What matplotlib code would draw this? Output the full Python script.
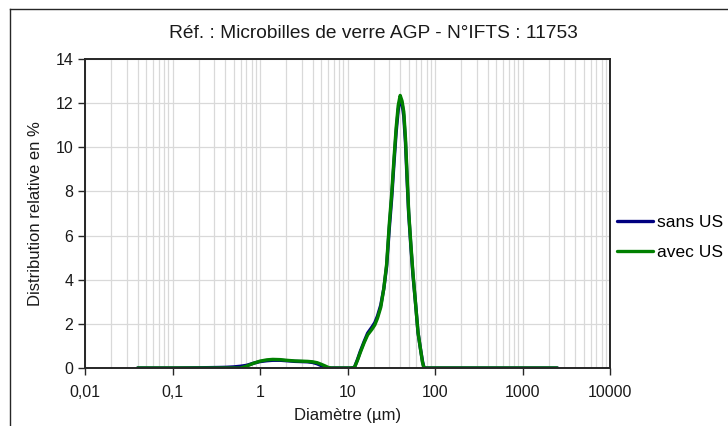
import numpy as np
import matplotlib.pyplot as plt
from matplotlib.lines import Line2D
from matplotlib.ticker import FixedLocator, LogLocator, NullFormatter

plt.rcParams['font.family'] = ['Liberation Sans', 'DejaVu Sans']

# Granulométrie : diamètres (µm) et distributions relatives (%)
diametres = [0.04, 0.1, 0.2, 0.3, 0.4, 0.5, 0.6, 0.7, 0.85, 1.0, 1.2, 1.4,
             1.7, 2.0, 2.5, 3.0, 3.5, 4.0, 4.5, 5.0, 5.5, 6.0, 6.5, 7.0,
             8.0, 9.0, 10.0, 11.0, 12.0, 13.0, 14.0, 15.5, 17.0, 19.0,
             20.5, 22.0, 24.0, 26.0, 28.0, 30.0, 32.0, 34.0, 36.0, 38.0,
             40.0, 42.0, 44.0, 46.0, 48.0, 50.0, 53.0, 56.0, 60.0, 64.0,
             68.0, 72.0, 75.0, 80.0, 100.0, 200.0, 500.0, 1000.0, 2500.0]

sans_us = [0, 0, 0.01, 0.02, 0.03, 0.05, 0.08, 0.12, 0.22, 0.29, 0.33, 0.35,
           0.35, 0.33, 0.30, 0.29, 0.28, 0.25, 0.19, 0.11, 0.04, 0, 0, 0,
           0, 0, 0, 0, 0.03, 0.38, 0.75, 1.2, 1.58, 1.85,
           2.05, 2.35, 2.85, 3.6, 4.6, 6.3, 7.7, 9.3, 10.7, 11.7,
           12.2, 12.0, 11.4, 10.2, 8.5, 7.0, 5.5, 4.2, 2.9, 1.6,
           0.9, 0.3, 0, 0, 0, 0, 0, 0, 0]

avec_us = [0, 0, 0, 0, 0, 0, 0, 0.08, 0.22, 0.31, 0.37, 0.39,
           0.38, 0.35, 0.32, 0.31, 0.30, 0.28, 0.24, 0.17, 0.10, 0.03, 0, 0,
           0, 0, 0, 0, 0.02, 0.35, 0.7, 1.15, 1.5, 1.75,
           1.95, 2.25, 2.75, 3.6, 4.7, 6.5, 7.9, 9.5, 10.9, 11.9,
           12.35, 12.1, 11.6, 10.4, 8.7, 7.1, 5.6, 4.3, 2.9, 1.6,
           0.9, 0.25, 0, 0, 0, 0, 0, 0, 0]

x_ticks = [0.01, 0.1, 1, 10, 100, 1000, 10000]
x_labels = ['0,01', '0,1', '1', '10', '100', '1000', '10000']

W, H = 728, 426
fig = plt.figure(figsize=(W / 100, H / 100), dpi=100)
ax = fig.add_axes([85 / W, (H - 368) / H, 525 / W, 309 / H])

ax.plot(diametres, sans_us, color='#000080', linewidth=2.4, label='sans US',
        solid_joinstyle='round', solid_capstyle='round')
ax.plot(diametres, avec_us, color='#008000', linewidth=2.4, label='avec US',
        solid_joinstyle='round', solid_capstyle='round')

ax.set_xscale('log')
ax.set_xlim(0.01, 10000)
ax.set_ylim(0, 14)
ax.xaxis.set_major_locator(FixedLocator(x_ticks))
ax.set_xticklabels(x_labels)
ax.xaxis.set_minor_locator(LogLocator(base=10, subs=np.arange(2, 10)))
ax.xaxis.set_minor_formatter(NullFormatter())
ax.set_yticks(np.arange(0, 15, 2))

ax.grid(True, which='major', color='#d9d9d9', linewidth=0.9)
ax.grid(True, which='minor', axis='x', color='#d9d9d9', linewidth=0.9)
ax.set_axisbelow(True)

for s in ax.spines.values():
    s.set_color('#262626')
    s.set_linewidth(1.4)

ax.tick_params(axis='both', which='major', direction='out', length=5,
               width=1, color='#262626', labelsize=11.5, labelcolor='#1a1a1a')
ax.tick_params(axis='x', which='minor', length=0)
ax.tick_params(axis='x', pad=7)

ax.set_xlabel('Diamètre (µm)', fontsize=12, color='#1a1a1a', labelpad=6)
ax.set_ylabel('Distribution relative en %', fontsize=12, color='#1a1a1a',
              labelpad=9)
fig.text(373 / W, 1 - 33 / H, 'Réf. : Microbilles de verre AGP - N°IFTS : 11753',
         ha='center', va='center', fontsize=13.8, color='#1a1a1a')

fig.legend(loc='center left', bbox_to_anchor=(617 / W, 1 - 237.5 / H),
           frameon=False, fontsize=12.5, handlelength=2.1, handletextpad=0.2,
           labelspacing=0.85, borderpad=0, borderaxespad=0)

# cadre du graphique (bords gauche et haut)
fig.add_artist(Line2D([10 / W, 10 / W], [0, 1 - 9 / H], color='#262626',
                      linewidth=1.0, transform=fig.transFigure))
fig.add_artist(Line2D([10 / W, 1], [1 - 9 / H, 1 - 9 / H], color='#262626',
                      linewidth=1.0, transform=fig.transFigure))

fig.savefig('out.png', dpi=100)
